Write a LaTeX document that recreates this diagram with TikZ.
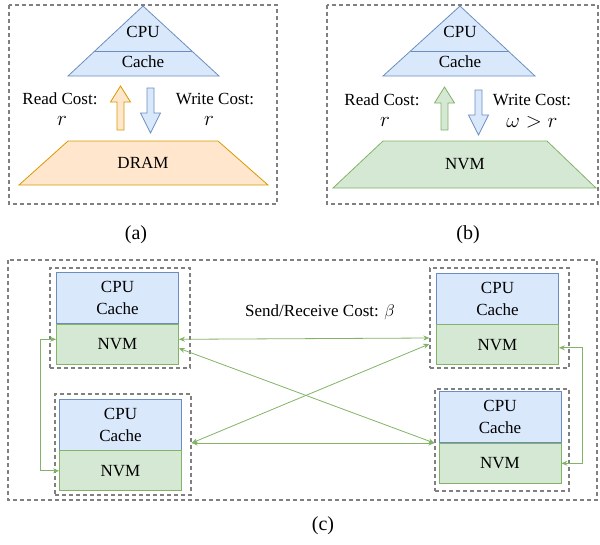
\documentclass[tikz,border=0pt]{standalone}
\usepackage{fix-cm}
\usepackage{fontspec}
\setmainfont{Liberation Serif}
\usetikzlibrary{positioning,arrows.meta}

\definecolor{cpufill}{HTML}{DAE8FC}
\definecolor{cpuline}{HTML}{6C8EBF}
\definecolor{nvmfill}{HTML}{D5E8D4}
\definecolor{nvmline}{HTML}{82B366}
\definecolor{dramfill}{HTML}{FFE6CC}
\definecolor{dramline}{HTML}{D79B00}
\definecolor{framegray}{HTML}{808080}

\tikzset{
  frame/.style={draw=framegray, line width=1.3pt, dash pattern=on 4pt off 3pt},
  cpubox/.style={draw=cpuline, fill=cpufill, minimum width=122pt, minimum height=51pt,
    align=center, inner sep=0pt},
  nvmbox/.style={draw=nvmline, fill=nvmfill, minimum width=122pt, minimum height=40pt,
    inner sep=0pt},
  link/.style={draw=nvmline, line width=0.8pt, >={Stealth[length=6pt,width=5pt]}, <->},
  costsym/.style={font=\fontsize{21}{24}\selectfont},
  caption/.style={font=\fontsize{20}{24}\selectfont}
}

\begin{document}
\begin{tikzpicture}[x=1pt,y=-1pt,font=\fontsize{17}{22}\selectfont,line width=0.8pt]
  \useasboundingbox (0,0) rectangle (600,544);

  % (a) DRAM and (b) NVM memory hierarchy
  \draw[frame] (9,5) rectangle (277,204);
  \draw[frame] (327,5) rectangle (598,204);

  \draw[draw=cpuline, fill=cpufill] (68,76) -- (143,6) -- (219,76) -- cycle;
  \draw[draw=cpuline] (95,51) -- (192,51);
  \node (cpua) at (143,32) {CPU};
  \node (cachea) at (143,62) {Cache};

  \draw[draw=cpuline, fill=cpufill] (383,76) -- (460,6) -- (535,76) -- cycle;
  \draw[draw=cpuline] (410.5,51) -- (508,51);
  \node (cpub) at (460,32) {CPU};
  \node (cacheb) at (460,62) {Cache};

  \draw[draw=dramline, fill=dramfill] (68,141) -- (218,141) -- (268,185) -- (19,185) -- cycle;
  \node (dram) at (143,163) {DRAM};
  \draw[draw=nvmline, fill=nvmfill] (383,141) -- (547,141) -- (596,188) -- (333,188) -- cycle;
  \node (nvm) at (465,164) {NVM};

  % block arrows: x / tip / head base / tail
  \foreach \x/\tip/\hb/\tail/\f/\l in {%
    120.5/86/102/130/dramfill/dramline, 150.5/133/113/88/cpufill/cpuline,
    444.5/87/103/130/nvmfill/nvmline, 478.5/135/115/90/cpufill/cpuline}
  \draw[draw=\l, fill=\f] ({\x-3.5},\tail) -- ({\x-3.5},\hb) -- ({\x-10},\hb) -- (\x,\tip)
    -- ({\x+10},\hb) -- ({\x+3.5},\hb) -- ({\x+3.5},\tail) -- cycle;

  \node (reada) at (60,99) {Read Cost:};
  \node[costsym] (ra) at (62,121) {$r$};
  \node (writea) at (215,99) {Write Cost:};
  \node[costsym] (wa) at (209,121) {$r$};
  \node (readb) at (382,100) {Read Cost:};
  \node[costsym] (rb) at (385,122) {$r$};
  \node (writeb) at (532,100) {Write Cost:};
  \node[costsym] (wb) at (532,122) {$\omega > r$};

  \node[caption] (capa) at (136,235) {(a)};
  \node[caption] (capb) at (468,235) {(b)};

  % (c) four nodes linked over the network
  \draw[frame] (8,260) rectangle (597,500);

  \node[frame, minimum width=140pt, minimum height=100pt] (m1) at (120,318) {};
  \node[frame, minimum width=136pt, minimum height=101pt] (m2) at (123,444.5) {};
  \node[frame, minimum width=139pt, minimum height=100pt] (m3) at (499.5,318) {};
  \node[frame, minimum width=134pt, minimum height=102pt] (m4) at (502,440) {};

  \node[cpubox] (c1) at (117.5,298) {CPU\\Cache};
  \node[nvmbox, below=0pt of c1] (n1) {NVM};
  \node[cpubox] (c2) at (120.5,424.5) {CPU\\Cache};
  \node[nvmbox, below=0pt of c2] (n2) {NVM};
  \node[cpubox] (c3) at (497.5,298.5) {CPU\\Cache};
  \node[nvmbox, below=0pt of c3] (n3) {NVM};
  \node[cpubox] (c4) at (500,417) {CPU\\Cache};
  \node[nvmbox, below=0pt of c4] (n4) {NVM};

  \draw[link] ([yshift=5pt]n1.east) -- ([yshift=-20pt]m3.west);
  \draw[link] ([yshift=-4pt]n1.east) -- ([yshift=-3pt]m4.west);
  \draw[link] ([yshift=1.5pt]m2.east) -- ([yshift=-26pt]m3.west);
  \draw[link] ([yshift=1.5pt]m2.east) -- ([yshift=-3pt]m4.west);
  \draw[link] ([yshift=5pt]n1.west) -- ++(-16pt,0) |- (n2.west);
  \draw[link] ([yshift=-3pt]n3.east) -- ++(23pt,0) |- (n4.east);

  \node[fill=white, inner sep=1pt] (cost) at (320,312) {Send/Receive Cost: $\beta$};

  \node[caption] (capc) at (323,526) {(c)};
\end{tikzpicture}
\end{document}
